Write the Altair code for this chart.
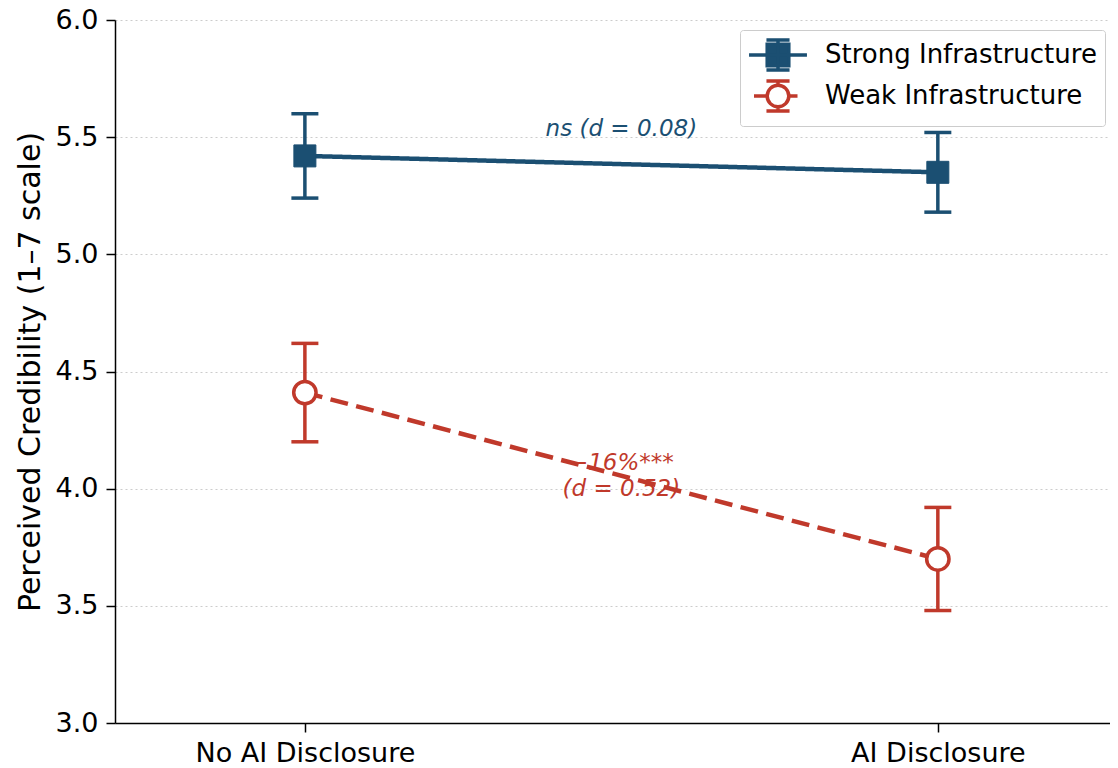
import altair as alt
import pandas as pd

# ---- data ----
conditions = ["No AI Disclosure", "AI Disclosure"]
series_names = ["Strong Infrastructure", "Weak Infrastructure"]
strong_mean = [5.42, 5.35]
strong_lo = [5.24, 5.18]
strong_hi = [5.60, 5.52]
weak_mean = [4.41, 3.70]
weak_lo = [4.20, 3.48]
weak_hi = [4.62, 3.92]
y_ticks = [3.0, 3.5, 4.0, 4.5, 5.0, 5.5, 6.0]
ann_series = ["Strong Infrastructure", "Weak Infrastructure"]
ann_text = [["ns (d = 0.08)"], ["\u221216%***", "(d = 0.52)"]]
ann_x = [0.5, 0.5]
ann_y = [5.535, 4.11]

BLUE = "#1b4f72"
RED = "#c0392b"
FONT = "DejaVu Sans"

rows = []
for s, means, los, his in [
    (series_names[0], strong_mean, strong_lo, strong_hi),
    (series_names[1], weak_mean, weak_lo, weak_hi),
]:
    for i, c in enumerate(conditions):
        rows.append({"pos": i, "condition": c, "series": s,
                     "mean": means[i], "lo": los[i], "hi": his[i]})
df = pd.DataFrame(rows)
ann_df = pd.DataFrame({"pos": ann_x, "y": ann_y, "text": ann_text, "series": ann_series})

label_expr = "[" + ",".join("'" + c + "'" for c in conditions) + "][datum.value]"

x_enc = alt.X("pos:Q",
              scale=alt.Scale(domain=[-0.3, 1.272], nice=False, zero=False),
              axis=alt.Axis(values=[0, 1], labelExpr=label_expr, grid=False, title=None))
y_scale = alt.Scale(domain=[3, 6], nice=False, zero=False)
y_axis = alt.Axis(values=y_ticks, format=".1f", title="Perceived Credibility (1\u20137 scale)")
color_enc = alt.Color("series:N", scale=alt.Scale(domain=series_names, range=[BLUE, RED]), legend=None)

base = alt.Chart(df)

text_layer = alt.Chart(ann_df).mark_text(
    font=FONT, fontSize=23, fontStyle="italic", align="center", baseline="middle", lineHeight=26
).encode(x=x_enc, y=alt.Y("y:Q", scale=y_scale, axis=y_axis), text="text", color=color_enc)

lines = base.mark_line(strokeWidth=4.5).encode(
    x=x_enc, y=alt.Y("mean:Q", scale=y_scale, axis=y_axis), color=color_enc,
    strokeDash=alt.StrokeDash("series:N", scale=alt.Scale(domain=series_names, range=[[1, 0], [18, 8.5]]), legend=None),
)

errs = base.mark_rule(strokeWidth=3.5).encode(
    x=x_enc, y=alt.Y("lo:Q", scale=y_scale, axis=y_axis), y2="hi:Q", color=color_enc
)

caps = base.transform_fold(["lo", "hi"], as_=["end", "val"]).mark_tick(
    orient="horizontal", size=27, thickness=3.5, opacity=1
).encode(x=x_enc, y=alt.Y("val:Q", scale=y_scale, axis=y_axis), color=color_enc)

strong_pts = base.transform_filter(alt.datum.series == series_names[0]).mark_point(
    shape="square", size=484, filled=True, fill=BLUE, stroke=BLUE, strokeWidth=1, opacity=1
).encode(x=x_enc, y=alt.Y("mean:Q", scale=y_scale, axis=y_axis))

weak_pts = base.transform_filter(alt.datum.series == series_names[1]).mark_point(
    shape="circle", size=500, fill="white", stroke=RED, strokeWidth=3.5, opacity=1
).encode(x=x_enc, y=alt.Y("mean:Q", scale=y_scale, axis=y_axis))

# legend glyphs: line + errorbar + marker (as in the reference legend)
PATH_S = ("M-1.93,0H1.93 M-0.77,-1H0.77 M0,-1V1 M-0.77,1H0.77 "
          "M-0.72,-0.72H0.72V0.72H-0.72Z")
PATH_W = ("M-1.6,0H-0.75 M0.75,0H1.3 M-0.77,-1H0.77 M0,-1V-0.74 M0,0.74V1 M-0.77,1H0.77 "
          "M0.72,0A0.72,0.72 0 1,1 -0.72,0A0.72,0.72 0 1,1 0.72,0Z")

leg = alt.Legend(title=None, orient="none", legendX=625, legendY=10)
# legend scales are data-driven (alphabetical = series order) so they are not merged
# with the legend-less colour scale
legend_layer = base.mark_point(size=900, strokeWidth=3.5, opacity=0).encode(
    x=x_enc, y=alt.Y("mean:Q", scale=y_scale, axis=y_axis),
    shape=alt.Shape("series:N", scale=alt.Scale(range=[PATH_S, PATH_W]), legend=leg),
    fill=alt.Fill("series:N", scale=alt.Scale(range=[BLUE, "white"]), legend=leg),
    stroke=alt.Stroke("series:N", scale=alt.Scale(range=[BLUE, RED]), legend=leg),
)

chart = alt.layer(text_layer, lines, errs, caps, strong_pts, weak_pts, legend_layer).properties(
    width=995, height=703,
    autosize=alt.AutoSizeParams(type="none"),
    padding={"left": 107, "top": 12, "right": 0, "bottom": 45},
).configure_view(stroke=None).configure_axis(
    labelFont=FONT, titleFont=FONT, labelFontSize=27, titleFontSize=30, titleFontWeight="normal",
    labelColor="black", titleColor="black", domainColor="black", tickColor="black",
    domainWidth=1.5, tickWidth=1.5, tickSize=9, labelPadding=8, labelLimit=0,
    gridColor="#cccccc", gridDash=[2, 3], gridWidth=1, titlePadding=10,
).configure_legend(
    labelFont=FONT, labelFontSize=26, labelColor="black", labelLimit=0,
    strokeColor="#cccccc", fillColor="white", padding=8, cornerRadius=3, rowPadding=-3,
    symbolSize=900, symbolStrokeWidth=3.5, symbolOpacity=1, symbolOffset=13, labelOffset=30,
)

chart.save("out.html", embed_options={"renderer": "svg", "actions": False})
